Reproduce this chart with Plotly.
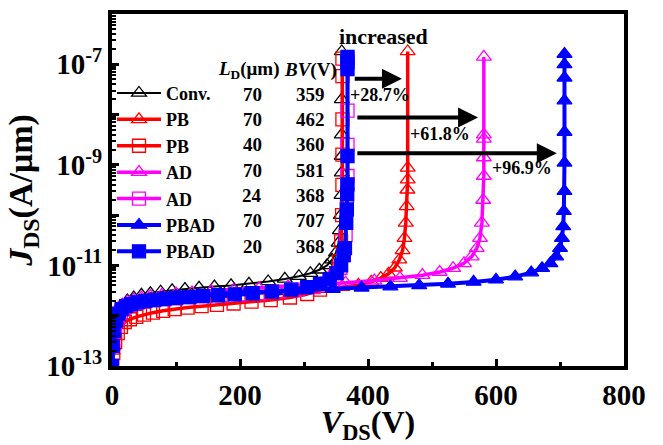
import plotly.graph_objects as go

# ---------------- data ----------------
conv_v = [0, 1, 3, 6, 10, 16, 24, 34, 46, 60, 76, 94, 114, 136, 160, 186, 214, 244, 270, 292, 310, 324, 336, 344, 350, 354, 356, 357.5, 358.5, 359, 359, 359, 359, 359]
conv_j = [1e-13, 2.5e-13, 5e-13, 8e-13, 1.2e-12, 1.6e-12, 2.0e-12, 2.3e-12, 2.6e-12, 2.8e-12, 3.0e-12, 3.2e-12, 3.4e-12, 3.6e-12, 3.8e-12, 4.0e-12, 4.3e-12, 4.8e-12, 5.4e-12, 6.1e-12, 7.0e-12, 8.2e-12, 1.0e-11, 1.3e-11, 1.8e-11, 2.8e-11, 5e-11, 1e-10, 2.5e-10, 7e-10, 1.5e-9, 4e-9, 2e-8, 1.8e-7]

pb70_v = [0, 1, 3, 6, 10, 16, 24, 34, 46, 60, 80, 105, 135, 170, 210, 250, 290, 330, 360, 385, 405, 420, 432, 442, 449, 454, 457, 459, 460.5, 461.5, 462, 462, 462]
pb70_j = [1e-13, 2e-13, 4e-13, 7e-13, 1e-12, 1.3e-12, 1.6e-12, 1.8e-12, 2.0e-12, 2.1e-12, 2.3e-12, 2.4e-12, 2.6e-12, 2.7e-12, 2.9e-12, 3.0e-12, 3.2e-12, 3.4e-12, 3.7e-12, 4.1e-12, 4.7e-12, 5.6e-12, 6.8e-12, 9e-12, 1.3e-11, 2e-11, 3.5e-11, 7e-11, 1.5e-10, 3.2e-10, 5.1e-10, 8.7e-10, 1.8e-7]

pb40_v = [0, 2, 5, 9, 14, 20, 28, 38, 50, 64, 80, 98, 118, 140, 164, 190, 218, 248, 278, 305, 325, 340, 350, 355, 358, 359.5, 360, 360, 360, 360, 360]
pb40_j = [1e-13, 1.8e-13, 3e-13, 4.5e-13, 6e-13, 7.5e-13, 8.5e-13, 9.5e-13, 1.05e-12, 1.15e-12, 1.25e-12, 1.35e-12, 1.45e-12, 1.55e-12, 1.65e-12, 1.75e-12, 1.9e-12, 2.05e-12, 2.3e-12, 2.7e-12, 3.3e-12, 4.5e-12, 7e-12, 1.2e-11, 3e-11, 1e-10, 4e-10, 1.6e-9, 8e-9, 5.8e-8, 1.3e-7]

ad70_v = [0, 1, 3, 6, 10, 16, 24, 34, 46, 60, 78, 100, 125, 155, 190, 230, 275, 320, 365, 410, 450, 485, 512, 533, 550, 562, 570, 575, 578, 580, 581, 581, 581, 581, 581]
ad70_j = [1e-13, 3e-13, 6e-13, 1e-12, 1.35e-12, 1.65e-12, 1.9e-12, 2.1e-12, 2.3e-12, 2.45e-12, 2.6e-12, 2.75e-12, 2.9e-12, 3.05e-12, 3.25e-12, 3.5e-12, 3.8e-12, 4.1e-12, 4.5e-12, 5e-12, 5.6e-12, 6.4e-12, 7.4e-12, 8.8e-12, 1.1e-11, 1.5e-11, 2.2e-11, 3.5e-11, 7e-11, 2e-10, 6e-10, 1.4e-9, 3.3e-9, 4e-9, 1.4e-7]

ad24_v = [0, 2, 5, 9, 14, 20, 28, 38, 50, 64, 80, 100, 122, 146, 172, 200, 230, 260, 290, 315, 335, 348, 357, 362, 365, 367, 368, 368, 368, 368]
ad24_j = [1e-13, 3e-13, 6e-13, 9e-13, 1.2e-12, 1.45e-12, 1.65e-12, 1.8e-12, 1.95e-12, 2.05e-12, 2.15e-12, 2.25e-12, 2.35e-12, 2.45e-12, 2.55e-12, 2.65e-12, 2.8e-12, 3.0e-12, 3.3e-12, 3.7e-12, 4.4e-12, 5.8e-12, 9e-12, 1.6e-11, 4e-11, 1.5e-10, 6e-10, 2.5e-9, 1.2e-8, 1.3e-7]

pbad70_v = [0, 1, 3, 6, 10, 16, 24, 34, 46, 60, 80, 105, 135, 170, 210, 255, 300, 345, 390, 435, 480, 525, 565, 600, 630, 655, 672, 685, 694, 700, 703, 705, 706, 707, 707, 707, 707, 707, 707, 707]
pbad70_j = [1e-13, 2.5e-13, 5e-13, 8e-13, 1.1e-12, 1.4e-12, 1.65e-12, 1.85e-12, 2.0e-12, 2.15e-12, 2.3e-12, 2.45e-12, 2.6e-12, 2.75e-12, 2.9e-12, 3.05e-12, 3.2e-12, 3.4e-12, 3.6e-12, 3.8e-12, 4.0e-12, 4.3e-12, 4.7e-12, 5.2e-12, 6e-12, 7.2e-12, 8.8e-12, 1.1e-11, 1.5e-11, 2.2e-11, 3.5e-11, 6e-11, 1.2e-10, 3e-10, 1.1e-9, 4.5e-9, 1.9e-8, 5.4e-8, 1e-7, 1.6e-7]

pbad20_v = [0, 1, 3, 6, 10, 15, 22, 30, 40, 52, 66, 82, 100, 120, 142, 166, 192, 220, 250, 280, 305, 325, 340, 351, 358, 362, 364, 366, 367, 367.5, 368, 368, 368, 368, 368]
pbad20_j = [1e-13, 2.5e-13, 5e-13, 8e-13, 1.1e-12, 1.35e-12, 1.55e-12, 1.7e-12, 1.85e-12, 1.95e-12, 2.05e-12, 2.15e-12, 2.25e-12, 2.35e-12, 2.45e-12, 2.55e-12, 2.65e-12, 2.8e-12, 3.0e-12, 3.3e-12, 3.7e-12, 4.3e-12, 5.3e-12, 7e-12, 1e-11, 1.6e-11, 2.2e-11, 7e-11, 1.3e-10, 2.6e-10, 4.1e-10, 1.5e-9, 8e-8, 1.1e-7, 1.4e-7]

names = ["Conv.", "PB", "PB", "AD", "AD", "PBAD", "PBAD"]
ld_vals = ["70", "70", "40", "70", "24", "70", "20"]
bv_vals = ["359", "462", "360", "581", "368", "707", "368"]

x_ticks = [0, 200, 400, 600, 800]
y_tick_exp = [-13, -11, -9, -7]

# ---------------- figure ----------------
FONT = "Liberation Serif, Times New Roman, serif"
fig = go.Figure()

series = [
    (conv_v, conv_j, "black", "triangle-up-open", 2),
    (pb70_v, pb70_j, "red", "triangle-up-open", 3.5),
    (pb40_v, pb40_j, "red", "square-open", 3.5),
    (ad70_v, ad70_j, "magenta", "triangle-up-open", 3.5),
    (ad24_v, ad24_j, "magenta", "square-open", 3.5),
    (pbad70_v, pbad70_j, "blue", "triangle-up", 4),
    (pbad20_v, pbad20_j, "blue", "square", 4),
]
for (v, j, c, sym, lw), nm in zip(series, names):
    fig.add_trace(go.Scatter(
        x=v, y=j, mode="lines+markers", name="<b>%s</b>" % nm,
        line=dict(color=c, width=lw),
        marker=dict(symbol=sym, size=13, color=c, line=dict(color=c, width=1.3)),
    ))

def py(px):
    return (375 - px) / 365.0
def pxx(px):
    return (px - 112) / 512.0

# legend rows (pixel centres)
row0, row_step = 93, 26.3
row_y = [row0 + i * row_step for i in range(7)]

ann = []
tf = dict(family=FONT, size=19, color="black")
for ld, bv, ry in zip(ld_vals, bv_vals, row_y):
    ann.append(dict(x=pxx(252), y=py(ry), xref="paper", yref="paper", text="<b>%s</b>" % ld,
                    showarrow=False, font=tf, xanchor="center", yanchor="middle"))
    ann.append(dict(x=pxx(310), y=py(ry), xref="paper", yref="paper", text="<b>%s</b>" % bv,
                    showarrow=False, font=tf, xanchor="center", yanchor="middle"))
ann.append(dict(x=pxx(248), y=py(68), xref="paper", yref="paper",
                text="<b><i>L</i><sub>D</sub>(μm)</b>", showarrow=False, font=tf,
                xanchor="center", yanchor="middle"))
ann.append(dict(x=pxx(310), y=py(68), xref="paper", yref="paper",
                text="<b><i>BV</i>(V)</b>", showarrow=False, font=tf,
                xanchor="center", yanchor="middle"))
ann.append(dict(x=pxx(383), y=py(33), xref="paper", yref="paper",
                text="<b>increased</b>", showarrow=False,
                font=dict(family=FONT, size=22, color="black"),
                xanchor="center", yanchor="middle"))

# arrows (tail V, head V, log10 J)
arrows = [(377, 453, -7.29), (381, 572, -8.06), (381, 695, -8.77)]
for t, h, yy in arrows:
    ann.append(dict(x=h, y=yy, ax=t, ay=yy, xref="x", yref="y", axref="x", ayref="y",
                    text="", showarrow=True, arrowhead=2, arrowsize=1.0,
                    arrowwidth=4, arrowcolor="black"))
pct = [("+28.7%", 419, -7.615), ("+61.8%", 512, -8.385), ("+96.9%", 640, -9.06)]
for txt, xv, yv in pct:
    ann.append(dict(x=xv, y=yv, xref="x", yref="y", text="<b>%s</b>" % txt, showarrow=False,
                    font=dict(family=FONT, size=18, color="black"),
                    xanchor="center", yanchor="middle"))

# y ticks
major_y = [10.0 ** e for e in range(-13, -5)]
major_txt = ["<b>10<sup>%d</sup></b>" % e if e in y_tick_exp else " " for e in range(-13, -5)]
minor_y = [m * 10.0 ** e for e in range(-13, -6) for m in range(2, 10)]

fig.update_layout(
    width=663, height=445,
    margin=dict(l=112, r=39, t=10, b=70),
    paper_bgcolor="white", plot_bgcolor="white",
    showlegend=True,
    legend=dict(x=0.0, y=py(73), xanchor="left", yanchor="top",
                bgcolor="rgba(0,0,0,0)", tracegroupgap=0, itemwidth=44,
                font=dict(family=FONT, size=18, color="black")),
    annotations=ann,
    xaxis=dict(
        range=[0, 800], showgrid=False, zeroline=False,
        showline=True, linecolor="black", linewidth=4, mirror=True,
        ticks="inside", ticklen=7, tickwidth=3, tickcolor="black",
        tickvals=x_ticks, ticktext=["<b>%d</b>" % t for t in x_ticks],
        minor=dict(ticks="inside", ticklen=4, tickwidth=3, tickcolor="black",
                   tickvals=[100, 300, 500, 700]),
        tickfont=dict(family=FONT, size=29, color="black"),
        title=dict(text="<b><i>V</i><sub>DS</sub>(V)</b>", standoff=2,
                   font=dict(family=FONT, size=32, color="black")),
    ),
    yaxis=dict(
        type="log", range=[-13, -6], showgrid=False, zeroline=False,
        showline=True, linecolor="black", linewidth=4, mirror=True,
        ticks="inside", ticklen=7, tickwidth=3, tickcolor="black",
        tickvals=major_y, ticktext=major_txt,
        minor=dict(ticks="inside", ticklen=4, tickwidth=2, tickcolor="black",
                   tickvals=minor_y),
        tickfont=dict(family=FONT, size=29, color="black"),
        title=dict(text="<b><i>J</i><sub>DS</sub>(A/μm)</b>", standoff=4,
                   font=dict(family=FONT, size=34, color="black")),
    ),
)

fig.write_html("out.html")
